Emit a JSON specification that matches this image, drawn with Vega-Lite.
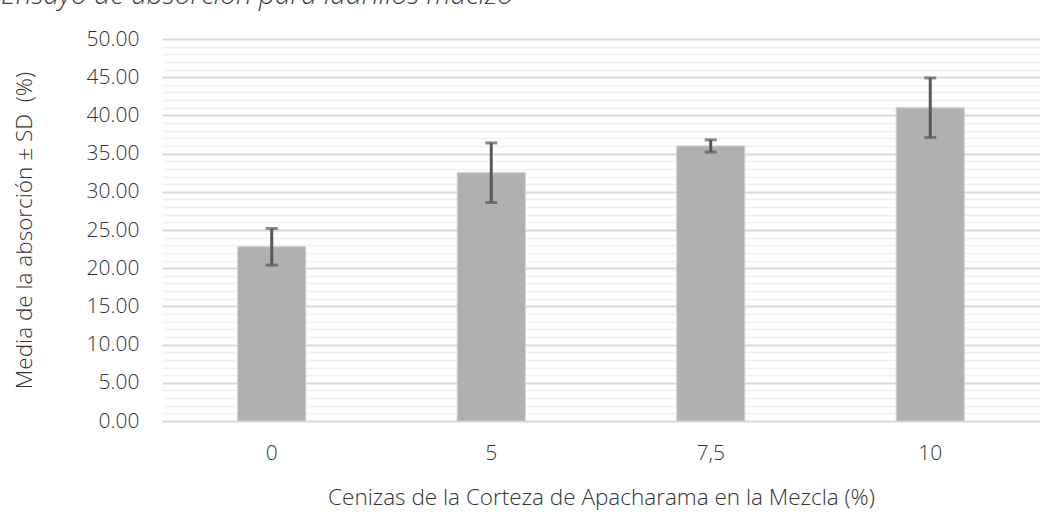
{
  "$schema": "https://vega.github.io/schema/vega-lite/v6.json",
  "width": 878,
  "height": 382,
  "autosize": "none",
  "padding": {"left": 162, "top": 39, "right": 17, "bottom": 110},
  "background": "white",
  "title": {
    "text": "Ensayo de absorción para ladrillos macizo",
    "anchor": "start",
    "frame": "group",
    "font": "Open Sans",
    "fontStyle": "italic",
    "fontWeight": 300,
    "fontSize": 28,
    "color": "#404040",
    "offset": 0,
    "baseline": "alphabetic",
    "dx": -161,
    "dy": 4
  },
  "config": {
    "view": {"stroke": null},
    "font": "Open Sans"
  },
  "data": {
    "values": [
      {"cat": "0", "mean": 22.8, "lo": 20.4, "hi": 25.2},
      {"cat": "5", "mean": 32.5, "lo": 28.6, "hi": 36.4},
      {"cat": "7,5", "mean": 36.0, "lo": 35.2, "hi": 36.8},
      {"cat": "10", "mean": 41.0, "lo": 37.1, "hi": 44.9}
    ]
  },
  "encoding": {
    "x": {
      "field": "cat",
      "type": "nominal",
      "sort": ["0", "5", "7,5", "10"],
      "scale": {"paddingInner": 0.69, "paddingOuter": 0.345},
      "axis": {
        "title": "Cenizas de la Corteza de Apacharama en la Mezcla (%)",
        "labelAngle": 0,
        "labelFont": "Open Sans",
        "labelFontSize": 21,
        "labelFontWeight": 300,
        "labelColor": "#333333",
        "labelPadding": 21,
        "ticks": false,
        "tickSize": 0,
        "domain": false,
        "grid": false,
        "titleFont": "Open Sans",
        "titleFontSize": 22.5,
        "titleFontWeight": 300,
        "titleColor": "#333333",
        "titlePadding": 23
      }
    }
  },
  "layer": [
    {
      "mark": {"type": "bar", "color": "#b0b0b0", "stroke": "#cfcfcf", "strokeWidth": 1},
      "encoding": {
        "y": {
          "field": "mean",
          "type": "quantitative",
          "scale": {"domain": [0, 50], "nice": false},
          "axis": {
            "title": "Media de la absorción ± SD\u00a0\u00a0(%)",
            "values": [0,1,2,3,4,5,6,7,8,9,10,11,12,13,14,15,16,17,18,19,20,21,22,23,24,25,26,27,28,29,30,31,32,33,34,35,36,37,38,39,40,41,42,43,44,45,46,47,48,49,50],
            "labelExpr": "datum.value % 5 === 0 ? format(datum.value, '.2f') : ''",
            "labelOverlap": false,
            "labelFont": "Open Sans",
            "labelFontSize": 21,
            "labelFontWeight": 300,
            "labelColor": "#333333",
            "labelPadding": 23,
            "ticks": false,
            "tickSize": 0,
            "domain": false,
            "grid": true,
            "gridColor": {"condition": {"test": "datum.value % 5 === 0", "value": "#d9d9d9"}, "value": "#f0f0f0"},
            "gridWidth": {"condition": {"test": "datum.value % 5 === 0", "value": 2}, "value": 1.5},
            "titleFont": "Open Sans",
            "titleFontSize": 22.5,
            "titleFontWeight": 300,
            "titleColor": "#333333",
            "titlePadding": 50
          }
        }
      }
    },
    {
      "mark": {"type": "rule", "color": "#595959", "strokeWidth": 3},
      "encoding": {
        "y": {
          "field": "lo",
          "type": "quantitative",
          "scale": {"domain": [0, 50], "nice": false},
          "axis": {
            "title": "Media de la absorción ± SD\u00a0\u00a0(%)",
            "values": [0,1,2,3,4,5,6,7,8,9,10,11,12,13,14,15,16,17,18,19,20,21,22,23,24,25,26,27,28,29,30,31,32,33,34,35,36,37,38,39,40,41,42,43,44,45,46,47,48,49,50],
            "labelExpr": "datum.value % 5 === 0 ? format(datum.value, '.2f') : ''",
            "labelOverlap": false,
            "labelFont": "Open Sans",
            "labelFontSize": 21,
            "labelFontWeight": 300,
            "labelColor": "#333333",
            "labelPadding": 23,
            "ticks": false,
            "tickSize": 0,
            "domain": false,
            "grid": true,
            "gridColor": {"condition": {"test": "datum.value % 5 === 0", "value": "#d9d9d9"}, "value": "#f0f0f0"},
            "gridWidth": {"condition": {"test": "datum.value % 5 === 0", "value": 2}, "value": 1.5},
            "titleFont": "Open Sans",
            "titleFontSize": 22.5,
            "titleFontWeight": 300,
            "titleColor": "#333333",
            "titlePadding": 50
          }
        },
        "y2": {"field": "hi"}
      }
    },
    {
      "mark": {"type": "tick", "color": "#595959", "size": 12, "thickness": 3, "orient": "horizontal"},
      "encoding": {
        "y": {
          "field": "lo",
          "type": "quantitative",
          "scale": {"domain": [0, 50], "nice": false},
          "axis": {
            "title": "Media de la absorción ± SD\u00a0\u00a0(%)",
            "values": [0,1,2,3,4,5,6,7,8,9,10,11,12,13,14,15,16,17,18,19,20,21,22,23,24,25,26,27,28,29,30,31,32,33,34,35,36,37,38,39,40,41,42,43,44,45,46,47,48,49,50],
            "labelExpr": "datum.value % 5 === 0 ? format(datum.value, '.2f') : ''",
            "labelOverlap": false,
            "labelFont": "Open Sans",
            "labelFontSize": 21,
            "labelFontWeight": 300,
            "labelColor": "#333333",
            "labelPadding": 23,
            "ticks": false,
            "tickSize": 0,
            "domain": false,
            "grid": true,
            "gridColor": {"condition": {"test": "datum.value % 5 === 0", "value": "#d9d9d9"}, "value": "#f0f0f0"},
            "gridWidth": {"condition": {"test": "datum.value % 5 === 0", "value": 2}, "value": 1.5},
            "titleFont": "Open Sans",
            "titleFontSize": 22.5,
            "titleFontWeight": 300,
            "titleColor": "#333333",
            "titlePadding": 50
          }
        }
      }
    },
    {
      "mark": {"type": "tick", "color": "#595959", "size": 12, "thickness": 3, "orient": "horizontal"},
      "encoding": {
        "y": {
          "field": "hi",
          "type": "quantitative",
          "scale": {"domain": [0, 50], "nice": false},
          "axis": {
            "title": "Media de la absorción ± SD\u00a0\u00a0(%)",
            "values": [0,1,2,3,4,5,6,7,8,9,10,11,12,13,14,15,16,17,18,19,20,21,22,23,24,25,26,27,28,29,30,31,32,33,34,35,36,37,38,39,40,41,42,43,44,45,46,47,48,49,50],
            "labelExpr": "datum.value % 5 === 0 ? format(datum.value, '.2f') : ''",
            "labelOverlap": false,
            "labelFont": "Open Sans",
            "labelFontSize": 21,
            "labelFontWeight": 300,
            "labelColor": "#333333",
            "labelPadding": 23,
            "ticks": false,
            "tickSize": 0,
            "domain": false,
            "grid": true,
            "gridColor": {"condition": {"test": "datum.value % 5 === 0", "value": "#d9d9d9"}, "value": "#f0f0f0"},
            "gridWidth": {"condition": {"test": "datum.value % 5 === 0", "value": 2}, "value": 1.5},
            "titleFont": "Open Sans",
            "titleFontSize": 22.5,
            "titleFontWeight": 300,
            "titleColor": "#333333",
            "titlePadding": 50
          }
        }
      }
    }
  ]
}
